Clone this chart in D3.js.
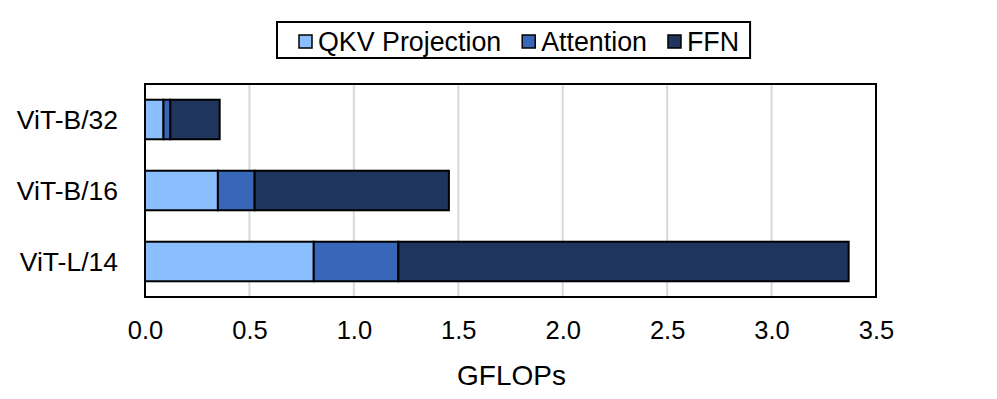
<!DOCTYPE html>
<html>
<head>
<meta charset="utf-8">
<script src="https://cdn.jsdelivr.net/npm/d3@7"></script>
<style>
  html, body { margin: 0; padding: 0; background: #fff; }
  svg { display: block; font-family: "Liberation Sans", Arial, Helvetica, sans-serif; }
</style>
</head>
<body>
<svg id="chart" width="997" height="399"></svg>
<script>
// ---- data ----
const categories = ["ViT-B/32", "ViT-B/16", "ViT-L/14"];
const seriesNames = ["QKV Projection", "Attention", "FFN"];
const qkvValues = [0.0885, 0.349, 0.808];
const attentionValues = [0.033, 0.176, 0.405];
const ffnValues = [0.236, 0.930, 2.156];
const xTicks = [0.0, 0.5, 1.0, 1.5, 2.0, 2.5, 3.0, 3.5];
const xTitle = "GFLOPs";
const colors = ["#8BBEFD", "#3866B8", "#1F355E"];

// ---- layout ----
const svg = d3.select("#chart");
const pLeft = 145, pRight = 876, pTop = 84, pBottom = 297;

const x = d3.scaleLinear().domain([0, 3.5]).range([pLeft, pRight]);
const y = d3.scaleBand().domain(categories).range([pTop, pBottom]).paddingInner(0.443).paddingOuter(0.2215);

const rows = categories.map((c, i) => ({ cat: c, QKV: qkvValues[i], Att: attentionValues[i], FFN: ffnValues[i] }));
const stack = d3.stack().keys(["QKV", "Att", "FFN"]);
const stacked = stack(rows);

// gridlines
svg.append("g").selectAll("line").data(xTicks.filter(t => t > 0 && t < 3.5)).join("line")
  .attr("x1", d => x(d)).attr("x2", d => x(d))
  .attr("y1", pTop).attr("y2", pBottom)
  .attr("stroke", "#d9d9d9").attr("stroke-width", 2);

// bars
svg.append("g").selectAll("g").data(stacked).join("g")
  .attr("fill", (d, i) => colors[i])
  .selectAll("rect").data(d => d).join("rect")
  .attr("x", d => x(d[0]))
  .attr("width", d => x(d[1]) - x(d[0]))
  .attr("y", d => y(d.data.cat))
  .attr("height", y.bandwidth())
  .attr("stroke", "#000").attr("stroke-width", 2);

// frame
svg.append("rect").attr("x", pLeft).attr("y", pTop)
  .attr("width", pRight - pLeft).attr("height", pBottom - pTop)
  .attr("fill", "none").attr("stroke", "#000").attr("stroke-width", 2);

// x axis labels
const xAxis = d3.axisBottom(x).tickValues(xTicks).tickFormat(d3.format(".1f")).tickSize(0).tickPadding(0);
const gx = svg.append("g").attr("transform", `translate(0,${pBottom})`).call(xAxis);
gx.select(".domain").remove();
gx.selectAll("text").attr("font-size", 25.5).attr("fill", "#000")
  .attr("y", 0).attr("dy", 0).attr("transform", "translate(0,42)")
  .style("font-family", "'Liberation Sans', Arial, Helvetica, sans-serif");

// y axis labels
const yAxis = d3.axisLeft(y).tickSize(0).tickPadding(0);
const gy = svg.append("g").attr("transform", `translate(${pLeft - 27},0)`).call(yAxis);
gy.select(".domain").remove();
gy.selectAll("text").attr("font-size", 26.5).attr("fill", "#000").attr("dy", "0.36em")
  .style("font-family", "'Liberation Sans', Arial, Helvetica, sans-serif");

// x title
svg.append("text").attr("x", (pLeft + pRight) / 2 + 1).attr("y", 385)
  .attr("text-anchor", "middle").attr("font-size", 28).attr("fill", "#000").text(xTitle);

// legend
const lg = svg.append("g");
const legBox = lg.append("rect").attr("y", 22).attr("height", 36)
  .attr("fill", "#fff").attr("stroke", "#000").attr("stroke-width", 2);
let cx = 299;
seriesNames.forEach((name, i) => {
  lg.append("rect").attr("x", cx).attr("y", 35).attr("width", 13).attr("height", 13)
    .attr("fill", colors[i]).attr("stroke", "#000").attr("stroke-width", 1.5);
  const t = lg.append("text").attr("x", cx + 19).attr("y", 50.5)
    .attr("font-size", 26.8).attr("fill", "#000").text(name);
  const w = t.node().getComputedTextLength();
  cx = cx + 19 + w + (i < seriesNames.length - 1 ? 21 : 0);
});
legBox.attr("x", 277).attr("width", cx + 11 - 277);
</script>
</body>
</html>
